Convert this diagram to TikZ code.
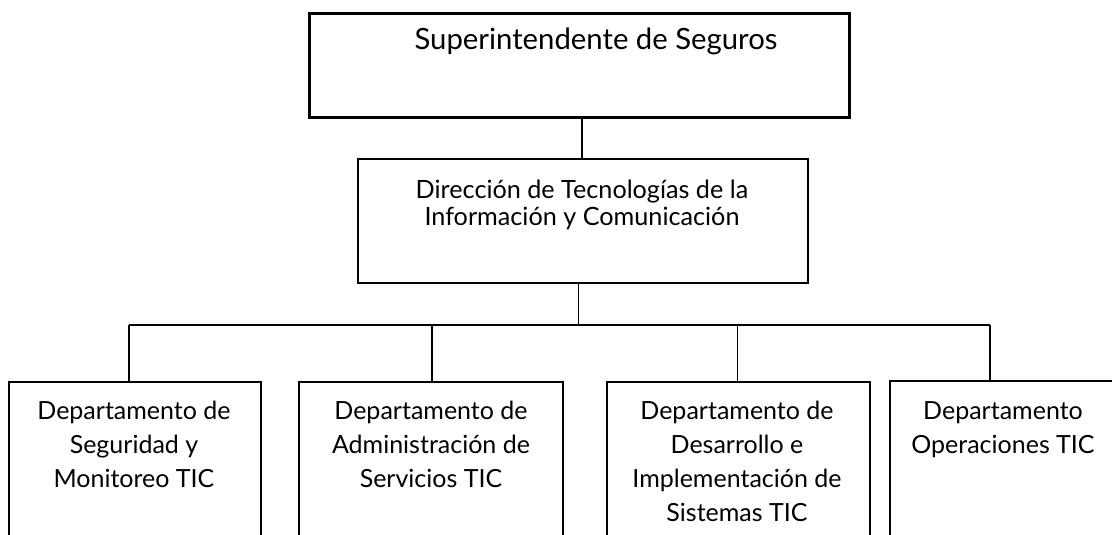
\documentclass[tikz,border=0pt]{standalone}
\usepackage{fontspec}
\setmainfont{Lato}
\begin{document}
\begin{tikzpicture}[x=1pt,y=-1pt,
  box/.style={draw=black,line width=2pt,rectangle,inner sep=0pt,anchor=north west},
  topbox/.style={box,line width=2.8pt},
  conn/.style={draw=black,line width=1.8pt},
  lbl/.style={inner sep=0pt,anchor=base,align=center,text=black},
  deptxt/.style={lbl,font=\fontsize{25}{34}\selectfont}]
\useasboundingbox (0,0) rectangle (1112,535);
\clip (0,0) rectangle (1112,535);
% boxes
\node[topbox,minimum width=540pt,minimum height=104pt] (sup) at (308,12) {};
\node[box,minimum width=450pt,minimum height=124pt] (dir) at (357,158) {};
\node[box,minimum width=252pt,minimum height=180pt] (d1) at (8,381) {};
\node[box,minimum width=264pt,minimum height=180pt] (d2) at (298,381) {};
\node[box,minimum width=263pt,minimum height=180pt] (d3) at (606,381) {};
\node[box,minimum width=228pt,minimum height=180pt] (d4) at (889,380) {};
% texts (base anchor = baseline of last line)
\node[lbl,font=\fontsize{29.3}{30}\selectfont] (tsup) at (596,50) {Superintendente de Seguros};
\node[lbl,font=\fontsize{25.2}{27}\selectfont] (tdir) at (582,225) {Dirección de Tecnologías de la\\Información y Comunicación};
\node[deptxt] (t1) at (134,487) {Departamento de\\Seguridad y\\Monitoreo TIC};
\node[deptxt] (t2) at (431,487) {Departamento de\\Administración de\\Servicios TIC};
\node[deptxt] (t3) at (737,521) {Departamento de\\Desarrollo e\\Implementación de\\Sistemas TIC};
\node[deptxt] (t4) at (1003,453) {Departamento\\Operaciones TIC};
% connectors
\coordinate (upc) at (582,116);
\coordinate (busc) at (578.5,325);
\coordinate (busl) at (128.6,325);
\coordinate (busr) at (990,325);
\coordinate (b2) at (432,325);
\coordinate (b3) at (737.5,325);
\draw[conn] (upc) -- (upc |- dir.north);
\draw[conn] (dir.south -| busc) -- (busc);
\draw[conn] (busl) -- (busr);
\draw[conn] (busl) -- (busl |- d1.north);
\draw[conn] (b2) -- (b2 |- d2.north);
\draw[conn] (b3) -- (b3 |- d3.north);
\draw[conn] (busr) -- (busr |- d4.north);
\end{tikzpicture}
\end{document}
